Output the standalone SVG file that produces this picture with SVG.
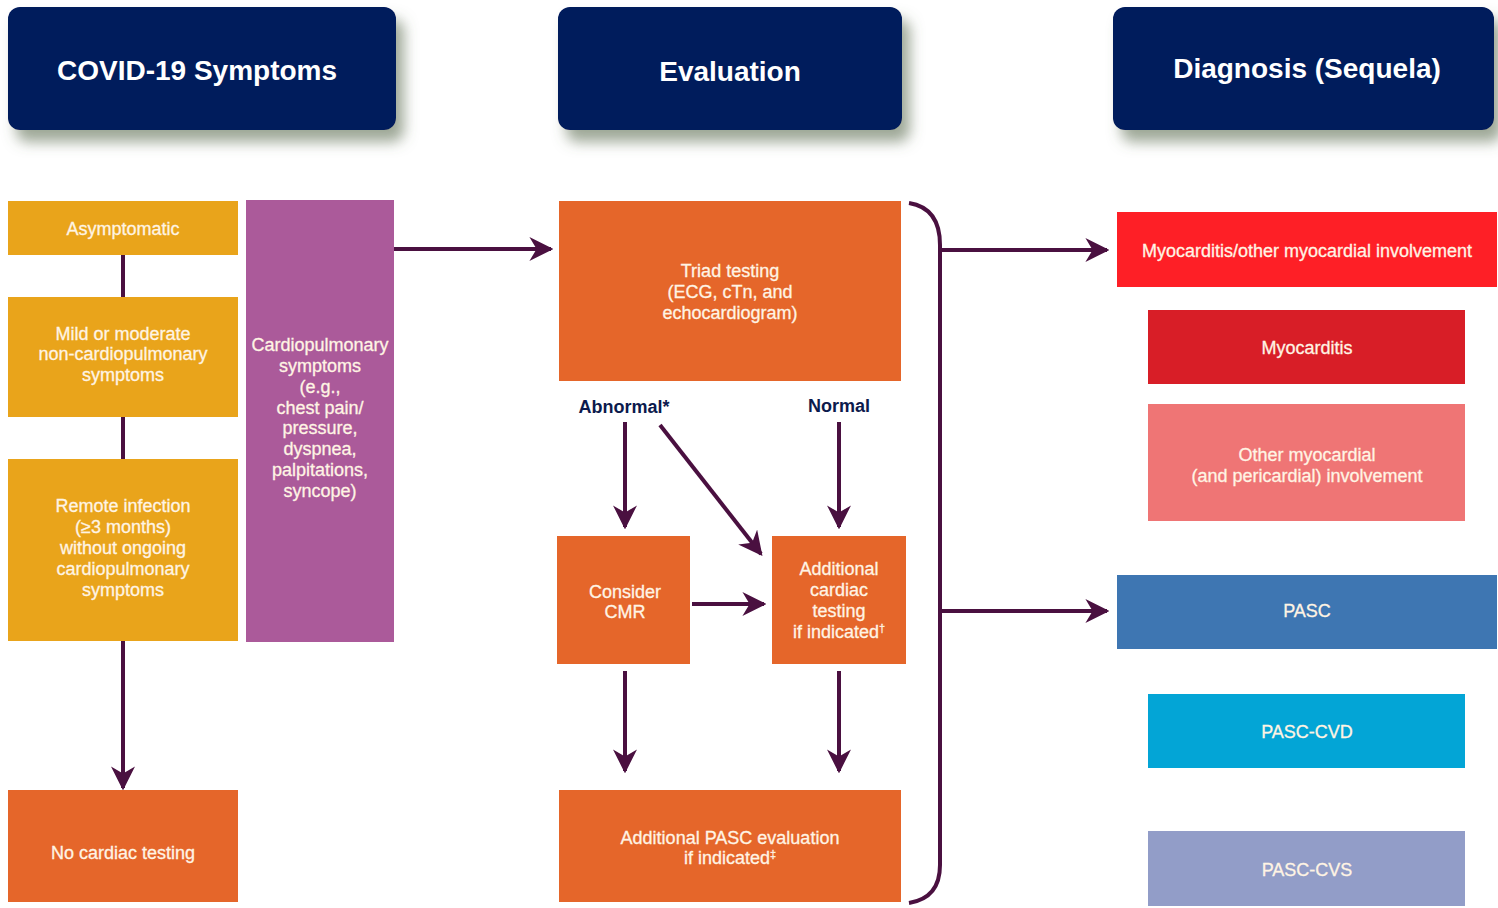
<svg xmlns="http://www.w3.org/2000/svg" width="1498" height="908" viewBox="0 0 1498 908">
<defs>
<style>
.hdr{fill:#021a5c}
.ht{font-family:"Liberation Sans",Arial,sans-serif;font-weight:bold;font-size:28px;fill:#ffffff;text-anchor:middle}
.t{font-family:"Liberation Sans",Arial,sans-serif;font-size:18px;fill:#fff4e4;text-anchor:middle;stroke:#fff4e4;stroke-width:0.3}
.lbl{font-family:"Liberation Sans",Arial,sans-serif;font-weight:bold;font-size:18px;fill:#0c1a4d;text-anchor:middle}
.gold{fill:#e9a41b}
.purp{fill:#ab5a9a}
.org{fill:#e5662a}
.ln{stroke:#4a1040;stroke-width:4;fill:none}
.ar{stroke:#4a1040;stroke-width:4;fill:none;marker-end:url(#ah)}
.sup{font-size:11px}
</style>
<marker id="ah" viewBox="0 0 10 10" refX="9" refY="5" markerWidth="6" markerHeight="6" markerUnits="strokeWidth" orient="auto">
<path d="M0,0 L10,5 L0,10 L3,5 Z" fill="#4a1040"/>
</marker>
<filter id="sh" x="-10%" y="-20%" width="130%" height="160%">
<feDropShadow dx="8" dy="12" stdDeviation="7" flood-color="#5d6e52" flood-opacity="0.6"/>
</filter>
</defs>
<rect width="1498" height="908" fill="#ffffff"/>

<g id="hdr-symptoms"><rect class="hdr" x="8" y="7" width="388" height="123" rx="12" filter="url(#sh)"/><text class="ht" x="197" y="80">COVID-19 Symptoms</text></g>
<g id="hdr-evaluation"><rect class="hdr" x="558" y="7" width="344" height="123" rx="12" filter="url(#sh)"/><text class="ht" x="730" y="81">Evaluation</text></g>
<g id="hdr-diagnosis"><rect class="hdr" x="1113" y="7" width="381" height="123" rx="12" filter="url(#sh)"/><text class="ht" x="1307" y="78">Diagnosis (Sequela)</text></g>

<g id="connectors">
<line class="ln" x1="123" y1="255" x2="123" y2="297"/>
<line class="ln" x1="123" y1="417" x2="123" y2="459"/>
<line class="ar" x1="123" y1="641" x2="123" y2="788"/>
<line class="ar" x1="394" y1="249" x2="551" y2="249"/>
<line class="ar" x1="625" y1="422" x2="625" y2="527"/>
<line class="ar" x1="660" y1="425" x2="761" y2="554"/>
<line class="ar" x1="839" y1="422" x2="839" y2="527"/>
<line class="ar" x1="692" y1="604" x2="764" y2="604"/>
<line class="ar" x1="625" y1="671" x2="625" y2="771"/>
<line class="ar" x1="839" y1="671" x2="839" y2="771"/>
<path class="ln" d="M909,203 Q940,208 940,245 L940,865 Q940,898 909,903"/>
<line class="ar" x1="940" y1="250" x2="1107" y2="250"/>
<line class="ar" x1="940" y1="611" x2="1107" y2="611"/>
</g>

<g id="asymptomatic"><rect class="gold" x="8" y="201" width="230" height="54"/><text class="t" x="123" y="235">Asymptomatic</text></g>
<g id="mild"><rect class="gold" x="8" y="297" width="230" height="120"/><text class="t" x="123" y="340">Mild or moderate</text><text class="t" x="123" y="360">non-cardiopulmonary</text><text class="t" x="123" y="381">symptoms</text></g>
<g id="remote"><rect class="gold" x="8" y="459" width="230" height="182"/><text class="t" x="123" y="512">Remote infection</text><text class="t" x="123" y="533">(≥3 months)</text><text class="t" x="123" y="554">without ongoing</text><text class="t" x="123" y="575">cardiopulmonary</text><text class="t" x="123" y="596">symptoms</text></g>
<g id="cardiopulmonary"><rect class="purp" x="246" y="200" width="148" height="442"/><text class="t" x="320" y="351">Cardiopulmonary</text><text class="t" x="320" y="372">symptoms</text><text class="t" x="320" y="393">(e.g.,</text><text class="t" x="320" y="414">chest pain/</text><text class="t" x="320" y="434">pressure,</text><text class="t" x="320" y="455">dyspnea,</text><text class="t" x="320" y="476">palpitations,</text><text class="t" x="320" y="497">syncope)</text></g>
<g id="no-cardiac"><rect class="org" x="8" y="790" width="230" height="112"/><text class="t" x="123" y="859">No cardiac testing</text></g>

<g id="triad"><rect class="org" x="559" y="201" width="342" height="180"/><text class="t" x="730" y="277">Triad testing</text><text class="t" x="730" y="298">(ECG, cTn, and</text><text class="t" x="730" y="319">echocardiogram)</text></g>
<g id="label-abnormal"><text class="lbl" x="624" y="413">Abnormal*</text></g>
<g id="label-normal"><text class="lbl" x="839" y="412">Normal</text></g>
<g id="cmr"><rect class="org" x="557" y="536" width="133" height="128"/><text class="t" x="625" y="598">Consider</text><text class="t" x="625" y="618">CMR</text></g>
<g id="additional-cardiac"><rect class="org" x="772" y="536" width="134" height="128"/><text class="t" x="839" y="575">Additional</text><text class="t" x="839" y="596">cardiac</text><text class="t" x="839" y="617">testing</text><text class="t" x="839" y="638">if indicated<tspan class="sup" dy="-6">†</tspan></text></g>
<g id="pasc-eval"><rect class="org" x="559" y="790" width="342" height="112"/><text class="t" x="730" y="844">Additional PASC evaluation</text><text class="t" x="730" y="864">if indicated<tspan class="sup" dy="-6">‡</tspan></text></g>

<g id="myo-other"><rect x="1117" y="212" width="380" height="75" fill="#fe1f26"/><text class="t" x="1307" y="257">Myocarditis/other myocardial involvement</text></g>
<g id="myocarditis"><rect x="1148" y="310" width="317" height="74" fill="#d81e27"/><text class="t" x="1307" y="354">Myocarditis</text></g>
<g id="other-myo"><rect x="1148" y="404" width="317" height="117" fill="#ef7575"/><text class="t" x="1307" y="461">Other myocardial</text><text class="t" x="1307" y="482">(and pericardial) involvement</text></g>
<g id="pasc"><rect x="1117" y="575" width="380" height="74" fill="#3e76b2"/><text class="t" x="1307" y="617">PASC</text></g>
<g id="pasc-cvd"><rect x="1148" y="694" width="317" height="74" fill="#03a5d6"/><text class="t" x="1307" y="738">PASC-CVD</text></g>
<g id="pasc-cvs"><rect x="1148" y="831" width="317" height="75" fill="#929dc8"/><text class="t" x="1307" y="876">PASC-CVS</text></g>
</svg>
